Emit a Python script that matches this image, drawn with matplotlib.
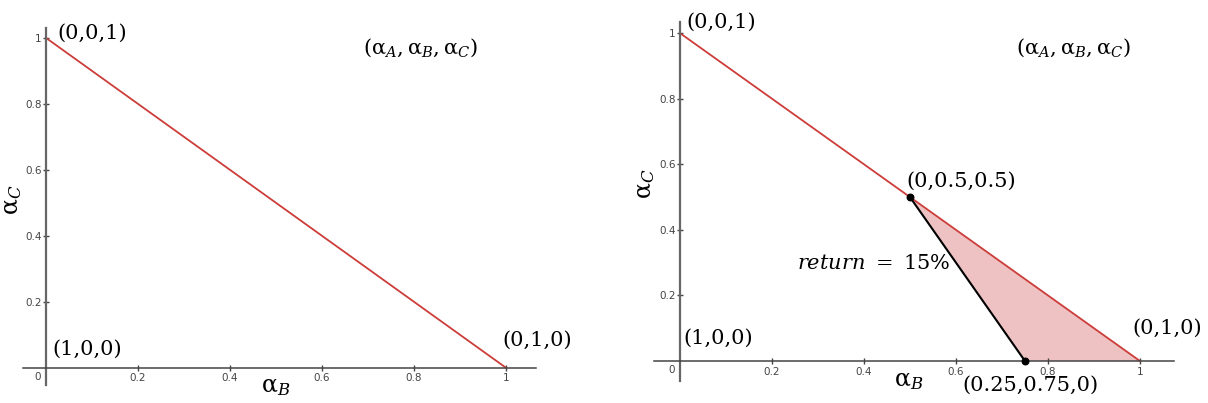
import matplotlib
matplotlib.use("Agg")
import matplotlib.pyplot as plt

plt.rcParams['mathtext.fontset'] = 'dejavuserif'

# Data
line_x = [0, 1]
line_y = [1, 0]
tick_vals = [0.2, 0.4, 0.6, 0.8, 1.0]
tick_labels = ['0.2', '0.4', '0.6', '0.8', '1']
poly_x = [0.5, 0.75, 1.0]
poly_y = [0.5, 0.0, 0.0]
ret_x = [0.5, 0.75]
ret_y = [0.5, 0.0]
vertex_labels = ['(0,0,1)', '(1,0,0)', '(0,1,0)']
pt_labels = ['(0,0.5,0.5)', '(0.25,0.75,0)']
return_label = r'$return\ =\ 15\%$'
coord_label = r'$(\mathrm{\alpha}_A, \mathrm{\alpha}_B, \mathrm{\alpha}_C)$'

RED = '#cc3d3a'
FILL = '#eec2c2'
SERIF = 'DejaVu Serif'
FS = 15

fig = plt.figure(figsize=(12.08, 4.03), dpi=100)

def setup(ax, xlim, ylim):
    ax.set_xlim(*xlim)
    ax.set_ylim(*ylim)
    for s in ['top', 'right']:
        ax.spines[s].set_visible(False)
    ax.spines['left'].set_position(('data', 0))
    ax.spines['bottom'].set_position(('data', 0))
    ax.spines['left'].set_color('#666666')
    ax.spines['left'].set_linewidth(1.6)
    ax.spines['bottom'].set_color('#444444')
    ax.spines['bottom'].set_linewidth(1.1)
    ax.set_xticks(tick_vals)
    ax.set_xticklabels(tick_labels)
    ax.set_yticks(tick_vals)
    ax.set_yticklabels(tick_labels)
    ax.tick_params(direction='inout', length=4, width=1, colors='#444444',
                   labelsize=7.5, pad=2)
    ax.tick_params(axis='y', pad=1)
    ax.text(-0.012, -0.012, '0', fontsize=7.5, color='#444444',
            ha='right', va='top')
    ax.patch.set_visible(False)

# Left panel
axL = fig.add_axes([23/1208, 18/403, 513/1208, 357/403])
setup(axL, (-0.05, 1.065), (-0.052, 1.03))
axL.plot(line_x, line_y, color=RED, lw=1.3, solid_capstyle='round')
axL.text(0.024, 1.015, vertex_labels[0], family=SERIF, fontsize=FS, ha='left', va='center')
axL.text(0.813, 0.97, coord_label, fontsize=FS, ha='center', va='center')
axL.text(0.013, 0.055, vertex_labels[1], family=SERIF, fontsize=FS, ha='left', va='center')
axL.text(0.993, 0.085, vertex_labels[2], family=SERIF, fontsize=FS, ha='left', va='center', clip_on=False)
axL.text(-0.074, 0.51, r'$\mathrm{\alpha}_C$', fontsize=17, rotation=90, ha='center', va='center')
axL.text(0.5, -0.055, r'$\mathrm{\alpha}_B$', fontsize=17, ha='center', va='center')

# Right panel
axR = fig.add_axes([654/1208, 22/403, 520/1208, 359/403])
setup(axR, (-0.0565, 1.074), (-0.061, 1.034))
axR.fill(poly_x, poly_y, color=FILL, lw=0, zorder=1)
axR.plot(line_x, line_y, color=RED, lw=1.3, zorder=2)
axR.plot(ret_x, ret_y, color='black', lw=1.5, zorder=3)
axR.scatter(ret_x, ret_y, s=22, color='black', zorder=4, clip_on=False)
axR.text(0.013, 1.034, vertex_labels[0], family=SERIF, fontsize=FS, ha='left', va='center', clip_on=False)
axR.text(0.855, 0.955, coord_label, fontsize=FS, ha='center', va='center')
axR.text(0.493, 0.549, pt_labels[0], family=SERIF, fontsize=FS, ha='left', va='center')
axR.text(0.587, 0.30, return_label, fontsize=FS, ha='right', va='center')
axR.text(0.007, 0.07, vertex_labels[1], family=SERIF, fontsize=FS, ha='left', va='center')
axR.text(0.983, 0.10, vertex_labels[2], family=SERIF, fontsize=FS, ha='left', va='center', clip_on=False)
axR.text(0.615, -0.073, pt_labels[1], family=SERIF, fontsize=FS, ha='left', va='center', clip_on=False)
axR.text(-0.076, 0.54, r'$\mathrm{\alpha}_C$', fontsize=17, rotation=90, ha='center', va='center')
axR.text(0.498, -0.058, r'$\mathrm{\alpha}_B$', fontsize=17, ha='center', va='center')

fig.savefig('out.png', dpi=100)
